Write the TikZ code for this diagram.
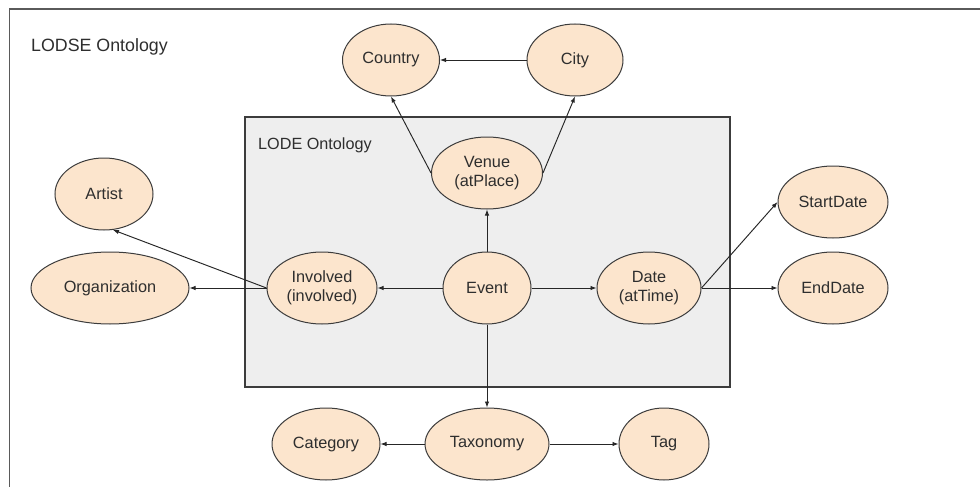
\documentclass[tikz,border=0pt]{standalone}
\usepackage{fontspec}
\setmainfont{Liberation Sans}
\usetikzlibrary{shapes.geometric,arrows.meta}

\definecolor{peach}{HTML}{FCE5CD}
\definecolor{rim}{HTML}{3C3C3C}
\definecolor{ink}{HTML}{2E2E2E}
\definecolor{panel}{HTML}{EEEEEE}
\definecolor{frame}{HTML}{5A5A5A}

\tikzset{
  concept/.style={ellipse, draw=rim, line width=1pt, fill=peach,
    inner sep=0pt, align=center, text=ink,
    font=\fontsize{16.3}{19}\selectfont,
    minimum height=72pt},
  link/.style={draw=black!85, line width=0.95pt,
    -{Latex[length=6pt,width=4.5pt]}},
  heading/.style={anchor=west, text=ink, inner sep=0pt}
}

\begin{document}
\begin{tikzpicture}[x=1pt,y=-1pt]
  \useasboundingbox (0,0) rectangle (980,487);

  % outer ontology frame (runs past the right and bottom edges)
  \begin{scope}
    \clip (0,0) rectangle (980,487);
    \draw[frame, line width=1.6pt, fill=white] (9.5,9) rectangle (990,500);
  \end{scope}
  \node[heading, font=\fontsize{17.8}{20}\selectfont] (lodse) at (31,47) {LODSE Ontology};

  % inner LODE box
  \draw[rim, line width=1.1pt, fill=panel] (245,117) rectangle (730,387);
  \node[heading, font=\fontsize{16.2}{19}\selectfont] (lode) at (258,145) {LODE Ontology};

  % concepts
  \node[concept, minimum width=97pt] (cou) at (391,60)  {Country};
  \node[concept, minimum width=96pt] (city) at (575,60) {City};
  \node[concept, minimum width=111pt] (ven) at (487,173) {Venue\\(atPlace)};
  \node[concept, minimum width=98pt] (art) at (104,194) {Artist};
  \node[concept, minimum width=158pt] (org) at (110,288) {Organization};
  \node[concept, minimum width=110pt] (inv) at (322,288) {Involved\\(involved)};
  \node[concept, minimum width=88pt]  (ev)  at (487,288) {Event};
  \node[concept, minimum width=104pt] (date) at (649,288) {Date\\(atTime)};
  \node[concept, minimum width=110pt] (sd)  at (833,202) {StartDate};
  \node[concept, minimum width=110pt] (ed)  at (833,288) {EndDate};
  \node[concept, minimum width=124pt] (tax) at (487,444) {Taxonomy};
  \node[concept, minimum width=108pt] (cat) at (326,444) {Category};
  \node[concept, minimum width=90pt]  (tag) at (664,444) {Tag};

  % relations
  \draw[link] (city) -- (cou);
  \draw[link] (ven.west) -- (cou.south);
  \draw[link] (ven.east) -- (city.south);
  \draw[link] (ev) -- (ven);
  \draw[link] (ev) -- (inv);
  \draw[link] (ev) -- (date);
  \draw[link] (ev) -- (tax);
  \draw[link] (inv.west) -- (org.east);
  \draw[link] (inv.west) -- (art.-76);
  \draw[link] (date.east) -- (ed.west);
  \draw[link] (date.east) -- (sd.west);
  \draw[link] (tax) -- (cat);
  \draw[link] (tax) -- (tag);
\end{tikzpicture}
\end{document}
